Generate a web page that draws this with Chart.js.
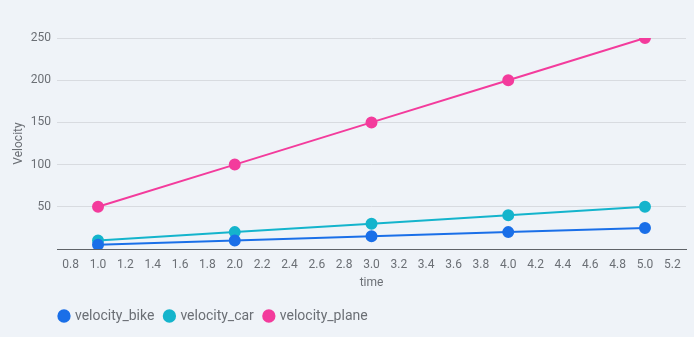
<!DOCTYPE html>
<html>
<head>
<meta charset="utf-8">
<script src="https://cdn.jsdelivr.net/npm/chart.js@4"></script>
<style>
  html, body { margin: 0; padding: 0; background: #eff3f8; }
  #wrap { width: 694px; height: 337px; }
</style>
</head>
<body>
<div id="wrap"><canvas id="chart"></canvas></div>
<script>
const times = [1, 2, 3, 4, 5];
const velocityBike = [5, 10, 15, 20, 25];
const velocityCar = [10, 20, 30, 40, 50];
const velocityPlane = [50, 100, 150, 200, 250];
const xTicks = [0.8, 1.0, 1.2, 1.4, 1.6, 1.8, 2.0, 2.2, 2.4, 2.6, 2.8, 3.0, 3.2, 3.4, 3.6, 3.8, 4.0, 4.2, 4.4, 4.6, 4.8, 5.0, 5.2];
const yTicks = [50, 100, 150, 200, 250];

const textColor = '#6b6f75';
const gridColor = '#d8dbe0';

function series(label, values, color) {
    return {
        label,
        data: times.map((t, i) => ({ x: t, y: values[i] })),
        borderColor: color,
        backgroundColor: color,
        borderWidth: 2,
        pointRadius: 5,
        pointHoverRadius: 6,
        pointStyle: 'circle',
    };
}

// nudge the bottom legend to line up under the plot
const legendShift = {
    id: 'legendShift',
    afterLayout(chart) {
        const lg = chart.legend;
        lg.left += 41; lg.right += 41;
        lg.top += 8; lg.bottom += 8;
    },
};

new Chart(document.getElementById('chart').getContext('2d'), {
    type: 'line',
    data: {
        datasets: [
            series('velocity_bike', velocityBike, '#1a6fe8'),
            series('velocity_car', velocityCar, '#14b4cc'),
            series('velocity_plane', velocityPlane, '#f33b9c'),
        ],
    },
    plugins: [legendShift],
    options: {
        responsive: true,
        maintainAspectRatio: false,
        animation: false,
        layout: { padding: { left: 8, right: 0, top: 38, bottom: 12 } },
        font: { family: 'Roboto' },
        plugins: {
            legend: {
                position: 'bottom',
                align: 'start',
                labels: {
                    usePointStyle: true,
                    pointStyle: 'circle',
                    boxWidth: 8,
                    boxHeight: 8,
                    padding: 11,
                    color: textColor,
                    font: { family: 'Roboto', size: 14 },
                },
            },
            tooltip: { enabled: false },
        },
        scales: {
            x: {
                type: 'linear',
                min: 0.7,
                max: 5.3,
                afterBuildTicks: (axis) => { axis.ticks = xTicks.map((v) => ({ value: v })); },
                afterFit: (axis) => { axis.height = 41; },
                grid: { display: false, drawTicks: false },
                border: { color: '#5f6368', width: 1 },
                ticks: {
                    color: textColor,
                    font: { family: 'Roboto', size: 12 },
                    padding: 9,
                    maxRotation: 0,
                    autoSkip: false,
                    callback: (v) => Number(v).toFixed(1),
                },
                title: { display: true, text: 'time', color: textColor, font: { family: 'Roboto', size: 12 }, padding: { top: 2, bottom: 0 } },
            },
            y: {
                min: 0,
                max: 250,
                afterBuildTicks: (axis) => { axis.ticks = [0].concat(yTicks).map((v) => ({ value: v })); },
                afterFit: (axis) => { axis.width = 49; },
                grid: {
                    drawTicks: false,
                    color: (ctx) => (ctx.tick && ctx.tick.value === 0 ? 'rgba(0,0,0,0)' : gridColor),
                },
                border: { display: false },
                ticks: {
                    color: textColor,
                    font: { family: 'Roboto', size: 12 },
                    padding: 6,
                    callback: (v) => (v === 0 ? '' : v),
                },
                title: { display: true, text: 'Velocity', color: textColor, font: { family: 'Roboto', size: 12 }, padding: { bottom: 2 } },
            },
        },
    },
});
</script>
</body>
</html>
